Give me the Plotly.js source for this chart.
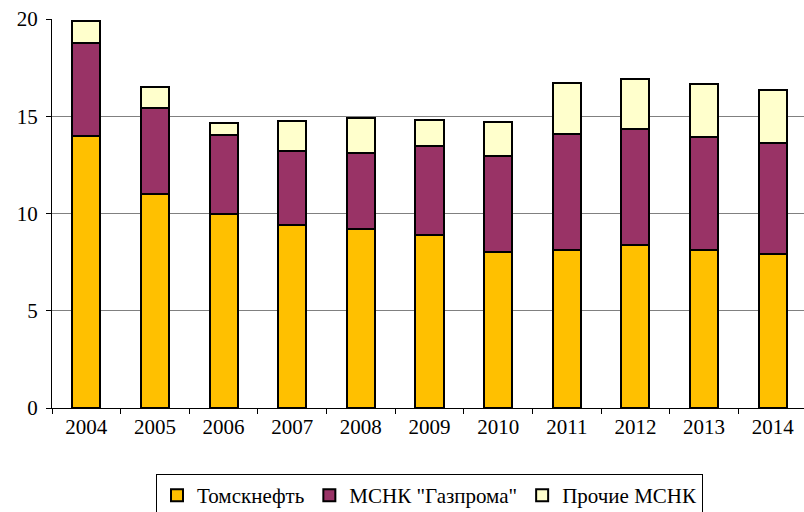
<!DOCTYPE html>
<html>
<head>
<meta charset="utf-8">
<script src="https://cdn.plot.ly/plotly-3.0.1.min.js"></script>
<style>
html,body{margin:0;padding:0;overflow:hidden;background:#fff;}
#chart{width:808px;height:512px;}
#chart svg text{font-family:"Liberation Serif","DejaVu Serif",serif !important;}
</style>
</head>
<body>
<div id="chart"></div>
<script>
const years = ['2004','2005','2006','2007','2008','2009','2010','2011','2012','2013','2014'];
const tomskneft = [14.0, 11.0, 9.95, 9.4, 9.2, 8.9, 8.0, 8.1, 8.4, 8.1, 7.9];
const gazprom   = [4.75, 4.4, 4.1, 3.8, 3.9, 4.55, 4.95, 6.0, 5.95, 5.85, 5.7];
const others    = [1.15, 1.1, 0.6, 1.55, 1.8, 1.35, 1.75, 2.6, 2.55, 2.7, 2.75];
const seriesNames = ['Томскнефть', 'МСНК "Газпрома"', 'Прочие МСНК'];
const colors = ['#FFC000', '#993366', '#FFFFCC'];

const series = [tomskneft, gazprom, others];
const traces = series.map((vals, i) => ({
  type: 'bar',
  x: years,
  y: vals,
  name: seriesNames[i],
  marker: {color: colors[i], line: {color: '#000', width: 2}},
  hoverinfo: 'none'
}));

const FONT = 'Liberation Serif, DejaVu Serif, serif';

const layout = {
  width: 808, height: 512,
  margin: {l: 52, r: 1, t: 19, b: 104},
  barmode: 'stack',
  bargap: 0.59,
  paper_bgcolor: '#fff',
  plot_bgcolor: '#fff',
  font: {family: FONT, size: 21, color: '#000'},
  xaxis: {
    type: 'category',
    showline: true, linecolor: '#000', linewidth: 1,
    ticks: 'outside', tickson: 'boundaries', ticklen: 5, tickcolor: '#000',
    showgrid: false, zeroline: false,
    tickfont: {family: FONT, size: 21, color: '#000'}
  },
  yaxis: {
    range: [0, 20], tickvals: [0, 5, 10, 15, 20],
    showline: true, linecolor: '#000', linewidth: 1,
    ticks: 'outside', ticklen: 5, tickcolor: '#000',
    showgrid: true, gridcolor: '#808080', gridwidth: 1,
    zeroline: false,
    tickfont: {family: FONT, size: 21, color: '#000'},
    ticklabelstandoff: 4
  },
  showlegend: true,
  legend: {
    orientation: 'h', x: 0.5, xanchor: 'center',
    yref: 'container', y: 0.074, yanchor: 'top',
    bordercolor: '#000', borderwidth: 1,
    font: {family: FONT, size: 21, color: '#000'}, traceorder: 'normal',
    itemwidth: 30
  }
};

Plotly.newPlot('chart', traces, layout, {displayModeBar: false, staticPlot: true});
</script>
</body>
</html>
